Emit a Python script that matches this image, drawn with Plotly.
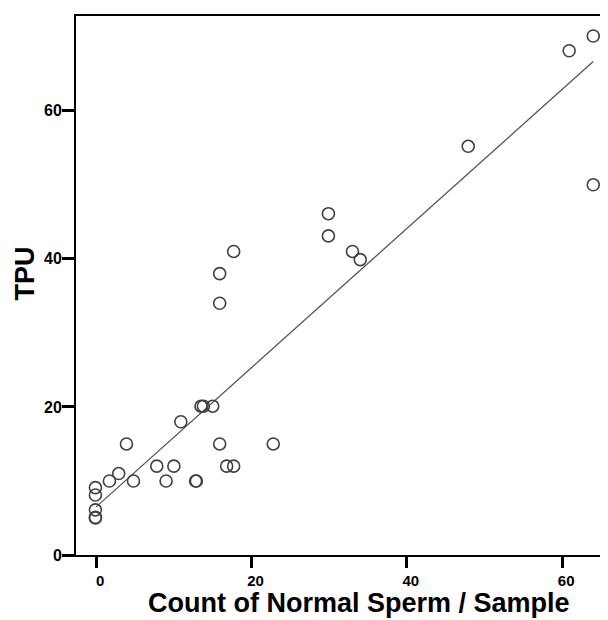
import plotly.graph_objects as go

# Data
normal_count = [64.0, 60.9, 64.0, 47.9, 29.9, 29.9, 33.0, 34.0, 17.7, 15.9, 15.9,
                13.5, 13.8, 15.0, 10.9, 3.9, 15.9, 22.8, 7.8, 10.0, 16.8, 17.7,
                2.9, 1.7, 4.8, 9.0, 12.8, 12.9, -0.1, -0.1, -0.1, -0.1, -0.1]
tpu = [70.1, 68.1, 50.0, 55.2, 46.1, 43.1, 41.0, 39.9, 41.0, 38.0, 34.0,
       20.1, 20.1, 20.1, 18.0, 15.0, 15.0, 15.0, 12.0, 12.0, 12.0, 12.0,
       11.0, 10.0, 10.0, 10.0, 10.0, 10.0, 9.1, 8.1, 6.1, 5.1, 5.0]

fit_intercept = 6.5
fit_slope = 0.94
fit_x = [0, 64]
fit_y = [fit_intercept + fit_slope * v for v in fit_x]

x_ticks = [0, 20, 40, 60]
y_ticks = [0, 20, 40, 60]

x_tick_font = dict(family="Liberation Sans, Arial", size=15, color="black", weight="bold")
y_tick_font = dict(family="Liberation Sans, Arial", size=16, color="black", weight="bold")
title_font = dict(family="Liberation Sans, Arial", size=27, color="black")

# page body has an 8px margin; figure occupies 600x612 starting at (8, 8)
L, T, B = 68, 8, 65
W, H = 600, 612
plot_left, plot_top, plot_bottom = L + 8, T + 8, 8 + H - B
plot_w = W - L
plot_h = H - T - B

fig = go.Figure()
fig.add_trace(go.Scatter(
    x=fit_x, y=fit_y, mode="lines",
    line=dict(color="#555555", width=1.3),
    showlegend=False, hoverinfo="skip"))
fig.add_trace(go.Scatter(
    x=normal_count, y=tpu, mode="markers",
    marker=dict(symbol="circle-open", size=12, color="#404040", line=dict(width=1.6)),
    showlegend=False))

fig.update_layout(
    width=W, height=H,
    margin=dict(l=L, r=0, t=T, b=B, autoexpand=False),
    plot_bgcolor="white", paper_bgcolor="white",
    xaxis=dict(range=[-2.6, 65.9], tickvals=x_ticks, ticktext=[str(v) for v in x_ticks],
               showgrid=False, zeroline=False, showline=True, linecolor="black",
               linewidth=1.8, mirror=True, ticks="outside", ticklen=11, tickwidth=2.5,
               tickcolor="black", tickfont=x_tick_font, ticklabelshift=4,
               automargin=False),
    yaxis=dict(range=[0, 72.8], tickvals=y_ticks, ticktext=[str(v) for v in y_ticks],
               showgrid=False, zeroline=False, showline=True, linecolor="black",
               linewidth=1.8, mirror=False, ticks="outside", ticklen=12, tickwidth=2.5,
               tickcolor="black", tickfont=y_tick_font, ticklabelstandoff=-3,
               automargin=False),
    annotations=[
        dict(text="<b>Count of Normal Sperm / Sample</b>", xref="paper", yref="paper",
             x=(358.7 - plot_left) / plot_w, y=-(603 - plot_bottom) / plot_h,
             xanchor="center", yanchor="middle", showarrow=False, font=title_font),
        dict(text="<b>TPU</b>", xref="paper", yref="paper",
             x=-(plot_left - 24.5) / plot_w, y=(plot_bottom - 274) / plot_h,
             xanchor="center", yanchor="middle", textangle=-90, showarrow=False,
             font=title_font),
    ],
)

fig.write_html("out.html")
